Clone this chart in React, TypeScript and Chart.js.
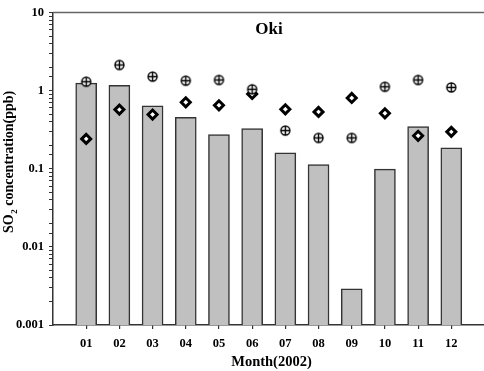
import { useEffect, useRef } from 'react';
import { Chart, registerables } from 'chart.js';

Chart.register(...registerables);

const FONT = "'Liberation Serif', 'Times New Roman', serif";

// Monthly SO2 at Oki, 2002
const months = ['01', '02', '03', '04', '05', '06', '07', '08', '09', '10', '11', '12'];
const barValues = [1.25, 1.17, 0.64, 0.455, 0.274, 0.327, 0.16, 0.113, 0.0029, 0.099, 0.347, 0.185];
const circleValues = [1.3, 2.13, 1.51, 1.34, 1.37, 1.04, 0.308, 0.248, 0.248, 1.12, 1.37, 1.1];
const diamondValues = [0.241, 0.572, 0.494, 0.709, 0.649, 0.907, 0.577, 0.534, 0.806, 0.513, 0.264, 0.297];
const yTickLabels = ['0.001', '0.01', '0.1', '1', '10'];

const titleText = 'Oki';
const xTitle = 'Month(2002)';

function makeCirclePlus(): HTMLCanvasElement {
  const c = document.createElement('canvas');
  c.width = 13;
  c.height = 13;
  const g = c.getContext('2d')!;
  const cx = 6.5;
  const cy = 6.5;
  const r = 4.5;
  g.fillStyle = '#fff';
  g.beginPath();
  g.arc(cx, cy, r, 0, Math.PI * 2);
  g.fill();
  g.strokeStyle = '#000';
  g.lineWidth = 1.4;
  g.stroke();
  g.beginPath();
  g.moveTo(cx - r, cy);
  g.lineTo(cx + r, cy);
  g.moveTo(cx, cy - r);
  g.lineTo(cx, cy + r);
  g.stroke();
  return c;
}

const decorations = {
  id: 'decorations',
  afterDraw(chart: any) {
    const { ctx, chartArea } = chart;
    ctx.save();
    // top frame line
    ctx.strokeStyle = '#666';
    ctx.lineWidth = 1.5;
    ctx.beginPath();
    ctx.moveTo(chartArea.left, chartArea.top);
    ctx.lineTo(chart.width, chartArea.top);
    ctx.stroke();

    ctx.fillStyle = '#000';
    ctx.textBaseline = 'alphabetic';

    // station name
    ctx.font = `bold 17px ${FONT}`;
    ctx.textAlign = 'center';
    ctx.fillText(titleText, 269, 34);

    // x axis title
    ctx.font = `bold 14.5px ${FONT}`;
    ctx.fillText(xTitle, 271.5, 366);

    // y axis title with subscript
    ctx.translate(13, 233);
    ctx.rotate(-Math.PI / 2);
    ctx.textAlign = 'left';
    ctx.font = `bold 14px ${FONT}`;
    ctx.fillText('SO', 0, 0);
    let x = ctx.measureText('SO').width;
    ctx.font = `bold 9px ${FONT}`;
    ctx.fillText('2', x + 0.5, 3.5);
    x += ctx.measureText('2').width + 0.5;
    ctx.font = `bold 14px ${FONT}`;
    ctx.fillText(' concentration(ppb)', x, 0);
    ctx.restore();
  },
};

export default function App() {
  const ref = useRef<HTMLCanvasElement>(null);

  useEffect(() => {
    const canvas = ref.current!;
    const circlePlus = makeCirclePlus();
    const tickFont = { family: FONT, size: 12.5, weight: 'bold' as const };

    const chart = new Chart(canvas, {
      type: 'bar',
      data: {
        datasets: [
          {
            type: 'scatter',
            data: circleValues.map((v, i) => ({ x: i + 1, y: v })),
            pointStyle: circlePlus,
            pointRadius: 5,
            order: 0,
          } as any,
          {
            type: 'scatter',
            data: diamondValues.map((v, i) => ({ x: i + 1, y: v })),
            pointStyle: 'rectRot',
            pointRadius: 4.5,
            borderWidth: 3,
            borderColor: '#000',
            backgroundColor: '#fff',
            order: 1,
          } as any,
          {
            type: 'bar',
            data: barValues.map((v, i) => ({ x: i + 1, y: v })),
            backgroundColor: '#c0c0c0',
            borderColor: '#333',
            borderWidth: 1.5,
            barThickness: 21,
            order: 2,
          } as any,
        ],
      },
      options: {
        responsive: false,
        devicePixelRatio: 1,
        animation: false,
        layout: { padding: { left: 8, top: 12, right: 3, bottom: 0 } },
        plugins: {
          legend: { display: false },
          tooltip: { enabled: false },
        },
        scales: {
          x: {
            type: 'linear',
            min: 0,
            max: 13,
            offset: false,
            afterBuildTicks: (s: any) => {
              s.ticks = months.map((_, i) => ({ value: i + 1 }));
            },
            afterFit: (s: any) => {
              s.height = 46;
            },
            ticks: {
              callback: (_v: any, i: number) => months[i] ?? '',
              font: tickFont,
              color: '#000',
              padding: 7,
              autoSkip: false,
              maxRotation: 0,
            },
            grid: {
              display: true,
              offset: false,
              drawOnChartArea: false,
              drawTicks: true,
              tickLength: 4,
              color: '#333',
              lineWidth: 1.2,
            },
            border: { display: true, color: '#333', width: 1.5 },
          },
          y: {
            type: 'logarithmic',
            min: 0.001,
            max: 10,
            afterFit: (s: any) => {
              s.width = 45;
            },
            ticks: {
              callback: (v: any) => {
                const l = Math.log10(Number(v));
                const r = Math.round(l);
                return Math.abs(l - r) < 1e-6 ? yTickLabels[r + 3] ?? '' : '';
              },
              font: tickFont,
              color: '#000',
              padding: 5,
              autoSkip: false,
            },
            grid: {
              display: true,
              drawOnChartArea: false,
              drawTicks: true,
              tickLength: 4,
              color: '#333',
              lineWidth: 1,
            },
            border: { display: true, color: '#333', width: 1.5 },
          },
        },
      },
      plugins: [decorations],
    });

    return () => chart.destroy();
  }, []);

  return (
    <div
      style={{
        position: 'absolute',
        left: 0,
        top: 0,
        width: 484,
        height: 371,
        overflow: 'hidden',
        background: '#fff',
      }}
    >
      <canvas ref={ref} width={492} height={371} style={{ display: 'block', width: 492, height: 371 }} />
    </div>
  );
}
